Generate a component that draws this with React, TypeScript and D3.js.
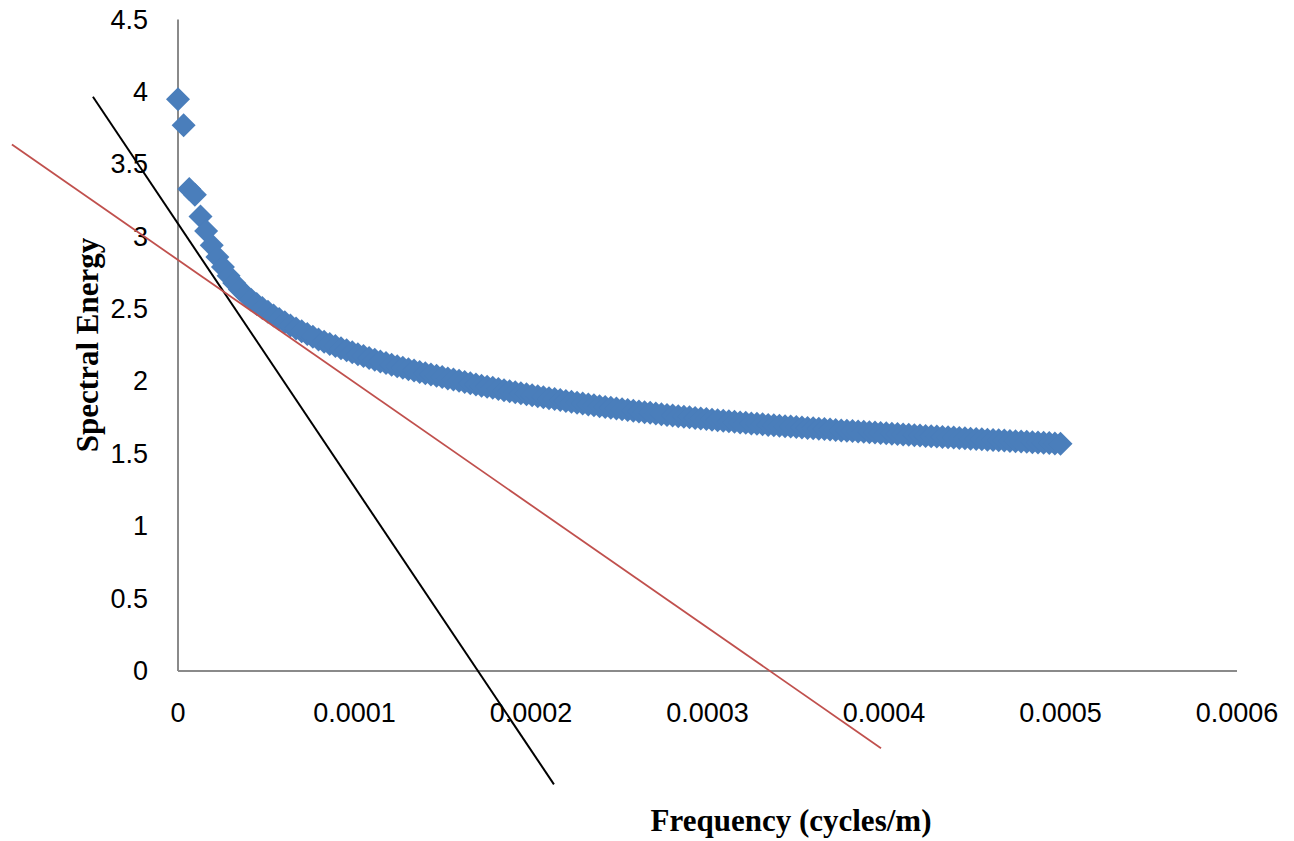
import React from "react";
import * as d3 from "d3";

// Spectrum samples: uniform frequency spacing, energy per sample
const FREQ_STEP = 0.0005 / 157;
const ENERGY: number[] = [
  3.95, 3.77, 3.33, 3.29, 3.14, 3.04, 2.94, 2.86, 2.79, 2.73,
  2.68, 2.635, 2.598, 2.565, 2.535, 2.507, 2.481, 2.456, 2.432, 2.409,
  2.387, 2.366, 2.346, 2.327, 2.308, 2.29, 2.274, 2.259, 2.244, 2.229,
  2.215, 2.201, 2.188, 2.175, 2.162, 2.15, 2.138, 2.127, 2.116, 2.105,
  2.095, 2.085, 2.075, 2.066, 2.057, 2.048, 2.039, 2.03, 2.021, 2.013,
  2.004, 1.996, 1.987, 1.979, 1.971, 1.963, 1.956, 1.948, 1.94, 1.933,
  1.926, 1.918, 1.911, 1.904, 1.898, 1.891, 1.884, 1.878, 1.871, 1.865,
  1.859, 1.853, 1.847, 1.841, 1.835, 1.829, 1.824, 1.818, 1.813, 1.808,
  1.802, 1.797, 1.792, 1.787, 1.783, 1.778, 1.773, 1.769, 1.764, 1.76,
  1.756, 1.752, 1.748, 1.744, 1.74, 1.736, 1.732, 1.728, 1.725, 1.721,
  1.717, 1.714, 1.71, 1.707, 1.704, 1.7, 1.697, 1.694, 1.691, 1.688,
  1.685, 1.682, 1.679, 1.676, 1.673, 1.671, 1.668, 1.665, 1.662, 1.66,
  1.657, 1.654, 1.652, 1.649, 1.647, 1.644, 1.642, 1.639, 1.637, 1.634,
  1.632, 1.629, 1.627, 1.624, 1.622, 1.62, 1.617, 1.615, 1.612, 1.61,
  1.608, 1.605, 1.603, 1.601, 1.598, 1.596, 1.594, 1.592, 1.589, 1.587,
  1.585, 1.583, 1.58, 1.578, 1.576, 1.574, 1.572, 1.569,
];

// Fitted straight lines, given by their two end points (frequency, energy)
const STEEP_FIT_LINE = [
  { f: -0.0000482, e: 3.966 },
  { f: 0.000213, e: -0.783 },
];
const SHALLOW_FIT_LINE = [
  { f: -0.0000941, e: 3.636 },
  { f: 0.0003983, e: -0.533 },
];

const X_TICKS = [0, 0.0001, 0.0002, 0.0003, 0.0004, 0.0005, 0.0006];
const X_TICK_LABELS = ["0", "0.0001", "0.0002", "0.0003", "0.0004", "0.0005", "0.0006"];
const Y_TICKS = [0, 0.5, 1, 1.5, 2, 2.5, 3, 3.5, 4, 4.5];
const Y_TICK_LABELS = ["0", "0.5", "1", "1.5", "2", "2.5", "3", "3.5", "4", "4.5"];

const W = 1294;
const H = 841;
const PLOT_LEFT = 178;
const PLOT_RIGHT = 1237;
const PLOT_TOP = 19.5;
const PLOT_BOTTOM = 671;

export default function App() {
  const x = d3.scaleLinear().domain([0, 0.0006]).range([PLOT_LEFT, PLOT_RIGHT]);
  const y = d3.scaleLinear().domain([0, 4.5]).range([PLOT_BOTTOM, PLOT_TOP]);

  const points = ENERGY.map((e, i) => ({ f: i * FREQ_STEP, e }));
  const r = 12;
  const diamond = `M0,${-r}L${r},0L0,${r}L${-r},0Z`;

  const line = d3
    .line<{ f: number; e: number }>()
    .x((d) => x(d.f))
    .y((d) => y(d.e));

  const tickFont = "'Liberation Sans', Arial, sans-serif";
  const titleFont = "'Liberation Serif', 'Times New Roman', serif";

  return (
    <svg
      width={W}
      height={H}
      viewBox={`0 0 ${W} ${H}`}
      style={{ position: "absolute", left: 0, top: 0, background: "#fff" }}
    >
      <rect x={0} y={0} width={W} height={H} fill="#fff" />

      {/* axes */}
      <line x1={PLOT_LEFT} x2={PLOT_LEFT} y1={PLOT_TOP} y2={PLOT_BOTTOM} stroke="#8a8a8a" strokeWidth={2} />
      <line x1={PLOT_LEFT} x2={PLOT_RIGHT} y1={PLOT_BOTTOM} y2={PLOT_BOTTOM} stroke="#8a8a8a" strokeWidth={2} />

      {/* y tick labels */}
      {Y_TICKS.map((t, i) => (
        <text
          key={`y${i}`}
          x={148}
          y={y(t)}
          textAnchor="end"
          dominantBaseline="central"
          fontFamily={tickFont}
          fontSize={27}
          fill="#000"
        >
          {Y_TICK_LABELS[i]}
        </text>
      ))}

      {/* x tick labels */}
      {X_TICKS.map((t, i) => (
        <text
          key={`x${i}`}
          x={x(t)}
          y={713}
          textAnchor="middle"
          dominantBaseline="central"
          fontFamily={tickFont}
          fontSize={27}
          fill="#000"
        >
          {X_TICK_LABELS[i]}
        </text>
      ))}

      {/* spectrum samples */}
      <g fill="#4a7ebb">
        {points.map((p, i) => (
          <path key={i} d={diamond} transform={`translate(${x(p.f)},${y(p.e)})`} />
        ))}
      </g>

      {/* fitted lines */}
      <path d={line(STEEP_FIT_LINE) || ""} stroke="#000" strokeWidth={2} fill="none" />
      <path d={line(SHALLOW_FIT_LINE) || ""} stroke="#c0504d" strokeWidth={1.8} fill="none" />

      {/* axis titles */}
      <text
        x={791}
        y={820}
        textAnchor="middle"
        dominantBaseline="central"
        fontFamily={titleFont}
        fontWeight="bold"
        fontSize={31}
        fill="#000"
      >
        Frequency (cycles/m)
      </text>
      <text
        transform="translate(87,345) rotate(-90)"
        textAnchor="middle"
        dominantBaseline="central"
        fontFamily={titleFont}
        fontWeight="bold"
        fontSize={31}
        fill="#000"
      >
        Spectral Energy
      </text>
    </svg>
  );
}
